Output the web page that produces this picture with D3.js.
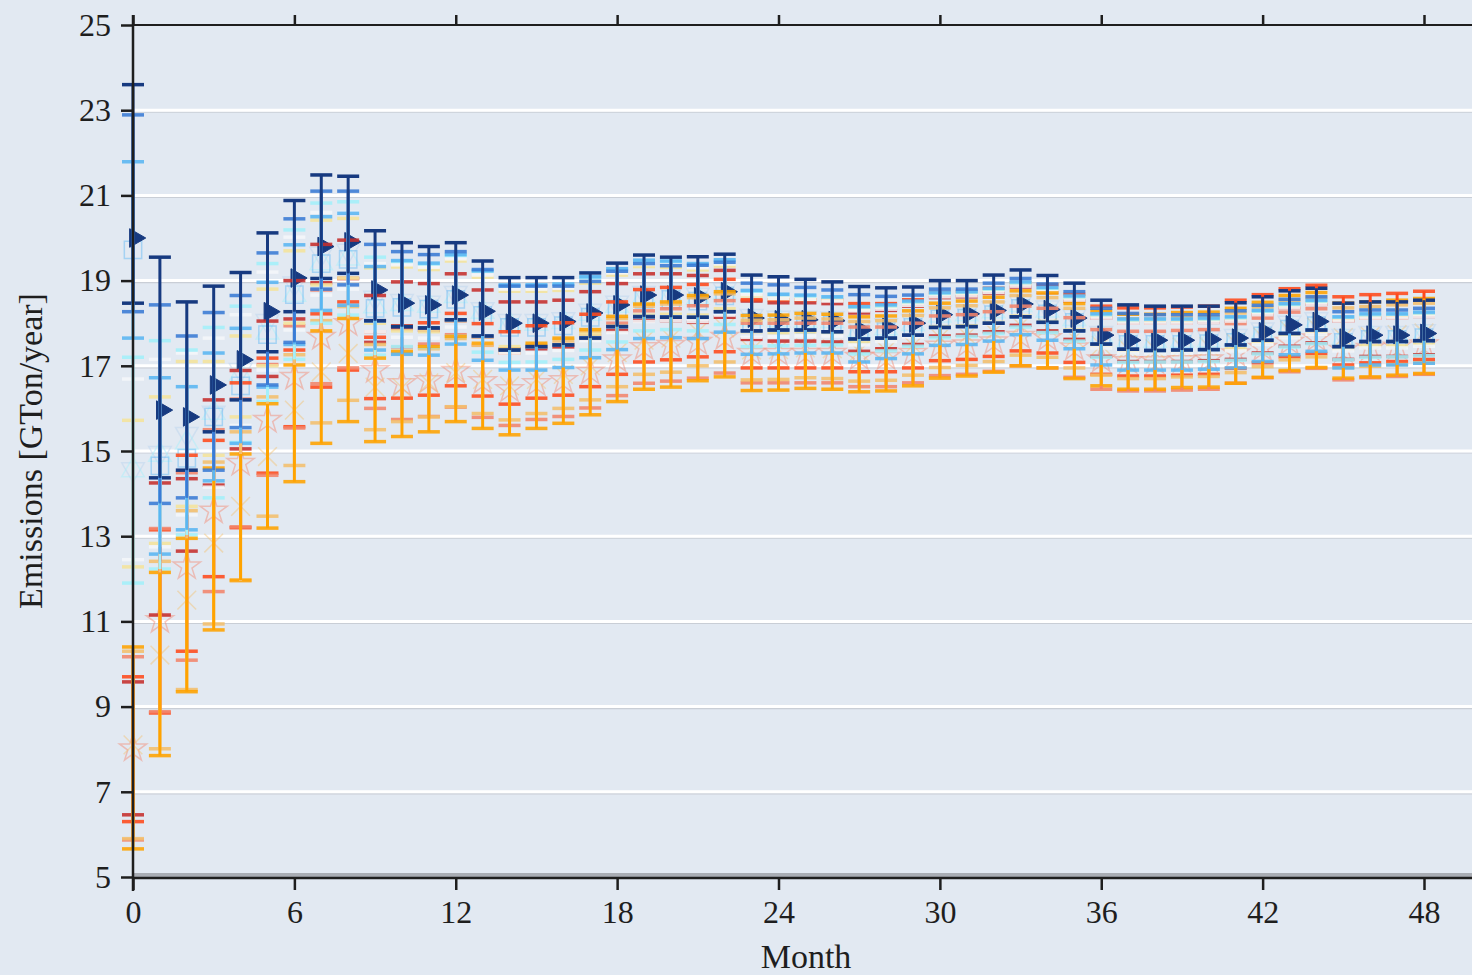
<!DOCTYPE html>
<html>
<head>
<meta charset="utf-8">
<script src="https://cdn.jsdelivr.net/npm/d3@7"></script>
<style>
  html, body { margin: 0; padding: 0; background: #e2e9f2; }
  svg { display: block; }
  text { font-family: "Liberation Serif", "DejaVu Serif", serif; fill: #1e1e1e; }
</style>
</head>
<body>
<svg id="chart" width="1472" height="975"></svg>
<script>
// months on the x axis and tick values
var months = [0, 1, 2, 3, 4, 5, 6, 7, 8, 9, 10, 11, 12, 13, 14, 15, 16, 17, 18, 19, 20, 21, 22, 23, 24,
    25, 26, 27, 28, 29, 30, 31, 32, 33, 34, 35, 36, 37, 38, 39, 40, 41, 42, 43, 44, 45, 46, 47, 48];
var xTicks = [0, 6, 12, 18, 24, 30, 36, 42, 48];
var yTicks = [5, 7, 9, 11, 13, 15, 17, 19, 21, 23, 25];

// navy series (asymmetric bars)
var navyValue = [20.0, 15.96, 15.8, 16.55, 17.14, 18.27, 19.06, 19.8, 19.91, 18.78,
    18.47, 18.43, 18.66, 18.28, 18.0, 18.0, 18.04, 18.24, 18.43, 18.66,
    18.66, 18.62, 18.74, 18.12, 18.08, 18.08, 18.06, 17.84, 17.9, 18.0,
    18.2, 18.22, 18.3, 18.45, 18.32, 18.12, 17.72, 17.6, 17.6, 17.6,
    17.62, 17.65, 17.8, 17.96, 18.04, 17.65, 17.72, 17.72, 17.76];
var navyHigh = [23.6, 19.55, 18.5, 18.87, 19.19, 20.12, 20.88, 21.48, 21.45, 20.17,
    19.89, 19.8, 19.89, 19.46, 19.07, 19.07, 19.07, 19.18, 19.41, 19.6,
    19.55, 19.56, 19.62, 19.13, 19.09, 19.03, 18.97, 18.86, 18.83, 18.85,
    19.0, 19.0, 19.13, 19.25, 19.12, 18.94, 18.54, 18.43, 18.4, 18.4,
    18.4, 18.48, 18.62, 18.76, 18.82, 18.47, 18.5, 18.5, 18.54];
var navyLow = [18.47, 14.37, 14.55, 15.45, 16.2, 17.33, 18.27, 19.05, 19.17, 18.06,
    17.92, 17.89, 18.08, 17.7, 17.37, 17.45, 17.49, 17.65, 17.92, 18.15,
    18.14, 18.14, 18.27, 17.82, 17.84, 17.84, 17.8, 17.63, 17.65, 17.72,
    17.9, 17.92, 18.0, 18.15, 18.02, 17.82, 17.51, 17.39, 17.36, 17.37,
    17.38, 17.49, 17.6, 17.76, 17.84, 17.45, 17.57, 17.57, 17.59];

var midBlueValue = [20.58, 16.1, 15.8, 16.4, 17.1, 18.1, 19.0, 19.95, 20.0, 18.95,
    18.8, 18.75, 18.88, 18.48, 18.12, 18.16, 18.18, 18.32, 18.57, 18.78,
    18.75, 18.75, 18.85, 18.38, 18.37, 18.34, 18.29, 18.15, 18.14, 18.19,
    18.35, 18.36, 18.47, 18.6, 18.47, 18.28, 17.93, 17.81, 17.78, 17.79,
    17.79, 17.89, 18.01, 18.16, 18.23, 17.86, 17.94, 17.94, 17.97];
var midBlueErr = [2.31, 2.33, 1.9, 1.85, 1.55, 1.55, 1.45, 1.15, 1.1, 0.9,
    0.88, 0.86, 0.8, 0.78, 0.75, 0.71, 0.69, 0.66, 0.65, 0.62,
    0.6, 0.61, 0.58, 0.56, 0.53, 0.5, 0.49, 0.52, 0.49, 0.47,
    0.45, 0.44, 0.47, 0.45, 0.45, 0.46, 0.42, 0.42, 0.42, 0.41,
    0.41, 0.4, 0.41, 0.4, 0.39, 0.41, 0.37, 0.37, 0.38];

var lightBlueValue = [19.72, 14.65, 14.83, 15.8, 16.53, 17.73, 18.67, 19.4, 19.5, 18.35,
    18.37, 18.33, 18.56, 18.18, 17.9, 17.9, 17.94, 18.14, 18.33, 18.56,
    18.56, 18.52, 18.64, 18.02, 17.98, 17.98, 17.96, 17.74, 17.8, 17.9,
    18.1, 18.12, 18.2, 18.35, 18.22, 18.02, 17.62, 17.5, 17.5, 17.5,
    17.52, 17.55, 17.7, 17.86, 17.94, 17.55, 17.62, 17.62, 17.66];
var lightBlueErr = [2.07, 2.07, 1.68, 1.5, 1.35, 1.23, 1.17, 1.1, 1.08, 0.98,
    1.1, 1.08, 1.05, 1.05, 1.0, 1.0, 0.98, 0.95, 0.95, 0.92,
    0.9, 0.88, 0.85, 0.75, 0.7, 0.68, 0.66, 0.65, 0.63, 0.62,
    0.62, 0.62, 0.62, 0.62, 0.62, 0.62, 0.6, 0.6, 0.6, 0.6,
    0.6, 0.6, 0.6, 0.6, 0.6, 0.6, 0.6, 0.6, 0.6];

var cyanValue = [14.55, 14.91, 15.2, 15.9, 16.8, 17.78, 18.67, 19.41, 19.52, 18.4,
    18.45, 18.41, 18.64, 18.27, 17.98, 17.99, 18.03, 18.22, 18.41, 18.64,
    18.65, 18.6, 18.72, 18.1, 18.07, 18.06, 18.05, 17.83, 17.88, 17.98,
    18.18, 18.21, 18.28, 18.43, 18.3, 18.1, 17.7, 17.58, 17.59, 17.59,
    17.6, 17.63, 17.78, 17.94, 18.02, 17.64, 17.7, 17.71, 17.74];
var cyanErr = [2.65, 2.68, 2.17, 2.0, 1.6, 1.62, 1.52, 1.41, 1.33, 1.15,
    1.0, 0.98, 0.95, 0.95, 0.9, 0.9, 0.88, 0.85, 0.85, 0.82,
    0.8, 0.78, 0.75, 0.65, 0.6, 0.58, 0.56, 0.55, 0.53, 0.52,
    0.52, 0.52, 0.52, 0.52, 0.52, 0.52, 0.5, 0.5, 0.5, 0.5,
    0.5, 0.5, 0.5, 0.5, 0.5, 0.5, 0.5, 0.5, 0.5];

var whiteValue = [14.57, 14.95, 15.4, 15.9, 16.9, 18.05, 18.93, 19.63, 19.7, 18.6,
    18.52, 18.48, 18.71, 18.33, 18.05, 18.05, 18.09, 18.29, 18.48, 18.71,
    18.71, 18.67, 18.79, 18.17, 18.13, 18.13, 18.11, 17.89, 17.95, 18.05,
    18.25, 18.27, 18.35, 18.5, 18.37, 18.17, 17.77, 17.65, 17.65, 17.65,
    17.67, 17.7, 17.85, 18.01, 18.09, 17.7, 17.77, 17.77, 17.81];
var whiteErr = [2.12, 2.2, 1.9, 1.75, 1.3, 1.15, 1.09, 0.97, 0.9, 0.8,
    0.85, 0.83, 0.8, 0.8, 0.75, 0.75, 0.73, 0.7, 0.7, 0.67,
    0.65, 0.63, 0.6, 0.5, 0.45, 0.43, 0.41, 0.4, 0.38, 0.37,
    0.37, 0.37, 0.37, 0.37, 0.37, 0.37, 0.35, 0.35, 0.35, 0.35,
    0.35, 0.35, 0.35, 0.35, 0.35, 0.35, 0.35, 0.35, 0.35];

var yellowValue = [14.0, 14.55, 15.4, 16.0, 16.75, 17.9, 18.85, 19.66, 19.76, 18.65,
    18.57, 18.53, 18.76, 18.38, 18.1, 18.1, 18.14, 18.34, 18.53, 18.76,
    18.76, 18.72, 18.84, 18.22, 18.18, 18.18, 18.16, 17.94, 18.0, 18.1,
    18.3, 18.32, 18.4, 18.55, 18.42, 18.22, 17.82, 17.7, 17.7, 17.7,
    17.72, 17.75, 17.9, 18.06, 18.14, 17.75, 17.82, 17.82, 17.86];
var yellowErr = [1.72, 1.72, 1.7, 1.1, 0.95, 0.9, 0.85, 0.76, 0.7, 0.65,
    0.75, 0.73, 0.7, 0.7, 0.65, 0.65, 0.63, 0.6, 0.6, 0.57,
    0.55, 0.53, 0.5, 0.42, 0.4, 0.38, 0.38, 0.38, 0.38, 0.38,
    0.38, 0.38, 0.38, 0.38, 0.38, 0.38, 0.35, 0.35, 0.35, 0.35,
    0.35, 0.35, 0.35, 0.35, 0.35, 0.35, 0.35, 0.35, 0.35];

var darkRedValue = [8.02, 12.7, 13.5, 15.2, 15.97, 17.4, 18.55, 19.4, 19.5, 18.1,
    18.42, 18.38, 18.61, 18.23, 17.95, 17.95, 17.99, 18.19, 18.38, 18.61,
    18.61, 18.57, 18.69, 18.07, 18.03, 18.03, 18.01, 17.79, 17.85, 17.95,
    18.15, 18.17, 18.25, 18.4, 18.27, 18.07, 17.67, 17.55, 17.55, 17.55,
    17.57, 17.6, 17.75, 17.91, 17.99, 17.6, 17.67, 17.67, 17.71];
var darkRedErr = [1.56, 1.55, 0.85, 1.0, 0.92, 0.65, 0.45, 0.45, 0.45, 0.55,
    0.55, 0.55, 0.55, 0.55, 0.55, 0.55, 0.55, 0.55, 0.55, 0.55,
    0.55, 0.55, 0.55, 0.45, 0.45, 0.45, 0.45, 0.45, 0.45, 0.45,
    0.45, 0.45, 0.45, 0.45, 0.45, 0.45, 0.45, 0.45, 0.45, 0.45,
    0.45, 0.45, 0.45, 0.45, 0.45, 0.45, 0.45, 0.45, 0.45];

var redOrangeValue = [8.0, 11.0, 12.6, 13.65, 14.9, 15.83, 16.47, 17.36, 17.7, 16.95,
    17.09, 17.16, 17.38, 17.14, 16.95, 17.09, 17.16, 17.36, 17.65, 17.94,
    17.99, 18.06, 18.18, 17.75, 17.75, 17.75, 17.75, 17.66, 17.66, 17.75,
    17.92, 17.95, 18.02, 18.15, 18.1, 17.88, 17.6, 17.56, 17.56, 17.58,
    17.6, 17.74, 17.87, 18.01, 18.09, 17.82, 17.87, 17.9, 17.95];
var redOrangeErr = [1.7, 2.15, 2.3, 1.6, 1.7, 1.35, 0.9, 0.86, 0.8, 0.72,
    0.85, 0.85, 0.85, 0.85, 0.85, 0.85, 0.85, 0.85, 0.85, 0.85,
    0.85, 0.85, 0.85, 0.8, 0.8, 0.8, 0.8, 0.8, 0.8, 0.8,
    0.8, 0.8, 0.8, 0.8, 0.8, 0.8, 0.8, 0.8, 0.8, 0.8,
    0.8, 0.8, 0.8, 0.8, 0.8, 0.8, 0.8, 0.8, 0.8];

var salmonValue = [8.02, 11.03, 12.29, 13.6, 14.72, 15.73, 16.74, 17.68, 18.0, 16.9,
    16.59, 16.66, 16.88, 16.64, 16.45, 16.59, 16.66, 16.86, 17.15, 17.44,
    17.49, 17.56, 17.68, 17.3, 17.3, 17.3, 17.3, 17.21, 17.21, 17.3,
    17.47, 17.5, 17.57, 17.7, 17.65, 17.43, 17.15, 17.11, 17.11, 17.13,
    17.15, 17.29, 17.42, 17.56, 17.64, 17.37, 17.42, 17.45, 17.5];
var salmonErr = [2.15, 2.15, 2.2, 1.9, 1.5, 1.3, 1.2, 1.1, 1.05, 0.9,
    0.85, 0.85, 0.85, 0.85, 0.85, 0.85, 0.85, 0.85, 0.85, 0.85,
    0.85, 0.85, 0.85, 0.7, 0.7, 0.7, 0.7, 0.7, 0.7, 0.7,
    0.7, 0.7, 0.7, 0.7, 0.7, 0.7, 0.7, 0.7, 0.7, 0.7,
    0.7, 0.7, 0.7, 0.7, 0.7, 0.7, 0.7, 0.7, 0.7];

var tanValue = [8.1, 10.21, 11.5, 12.84, 13.7, 14.87, 15.96, 16.86, 17.29, 16.5,
    16.49, 16.6, 16.84, 16.68, 16.53, 16.68, 16.8, 17.0, 17.31, 17.6,
    17.65, 17.8, 17.89, 17.37, 17.38, 17.42, 17.4, 17.34, 17.36, 17.48,
    17.66, 17.71, 17.8, 17.95, 17.9, 17.65, 17.48, 17.4, 17.4, 17.44,
    17.45, 17.54, 17.68, 17.84, 17.91, 17.66, 17.69, 17.73, 17.77];
var tanErr = [2.2, 2.2, 2.1, 1.9, 1.75, 1.4, 1.3, 1.2, 1.1, 1.0,
    0.8, 0.8, 0.8, 0.8, 0.8, 0.8, 0.8, 0.8, 0.8, 0.8,
    0.8, 0.8, 0.8, 0.7, 0.7, 0.7, 0.7, 0.7, 0.7, 0.7,
    0.7, 0.7, 0.7, 0.7, 0.7, 0.7, 0.7, 0.7, 0.7, 0.7,
    0.7, 0.7, 0.7, 0.7, 0.7, 0.7, 0.7, 0.7, 0.7];

var orangeValue = [8.03, 10.0, 11.15, 12.7, 13.45, 14.65, 15.65, 16.5, 16.9, 16.2,
    16.34, 16.45, 16.69, 16.53, 16.38, 16.53, 16.65, 16.85, 17.16, 17.45,
    17.5, 17.65, 17.74, 17.3, 17.31, 17.35, 17.33, 17.27, 17.29, 17.41,
    17.59, 17.64, 17.73, 17.88, 17.83, 17.58, 17.41, 17.33, 17.33, 17.37,
    17.38, 17.47, 17.61, 17.77, 17.84, 17.59, 17.62, 17.66, 17.7];
var orangeErr = [2.37, 2.15, 1.8, 1.9, 1.48, 1.46, 1.37, 1.32, 1.21, 0.98,
    1.0, 1.0, 1.0, 1.0, 1.0, 1.0, 1.0, 1.0, 1.0, 1.0,
    1.0, 1.0, 1.0, 0.88, 0.88, 0.88, 0.88, 0.88, 0.88, 0.88,
    0.88, 0.88, 0.88, 0.88, 0.88, 0.88, 0.88, 0.88, 0.88, 0.88,
    0.88, 0.88, 0.88, 0.88, 0.88, 0.88, 0.88, 0.88, 0.88];

// drawing order: first ones are covered by later ones
var series = [
    {name: 'darkRed', color: '#c62f2d', value: darkRedValue, err: darkRedErr},
    {name: 'redOrange', color: '#ff4a1c', value: redOrangeValue, err: redOrangeErr},
    {name: 'salmon', color: '#f3856c', value: salmonValue, err: salmonErr, marker: 'star'},
    {name: 'tan', color: '#f4c06e', value: tanValue, err: tanErr, marker: 'times'},
    {name: 'yellow', color: '#f5e49c', value: yellowValue, err: yellowErr},
    {name: 'white', color: '#f5f7fa', value: whiteValue, err: whiteErr, marker: 'down'},
    {name: 'cyan', color: '#a3f0fa', value: cyanValue, err: cyanErr, marker: 'up'},
    {name: 'orange', color: '#ffa300', value: orangeValue, err: orangeErr},
    {name: 'lightBlue', color: '#5ab6f3', value: lightBlueValue, err: lightBlueErr, marker: 'square'},
    {name: 'midBlue', color: '#3a7bd5', value: midBlueValue, err: midBlueErr},
    {name: 'navy', color: '#173a80', value: navyValue, low: navyLow, high: navyHigh, marker: 'right'}
];

var svg = d3.select('#chart');
var x = d3.scaleLinear().domain([0, 48]).range([133, 1424]);
var y = d3.scaleLinear().domain([5, 25]).range([877, 25]);
var plotRight = 1472;
var capHalf = 11;

// gridlines
var grid = svg.append('g');
yTicks.filter(function (d) { return d > 5 && d < 25; }).forEach(function (d) {
    grid.append('line')
        .attr('x1', x(0)).attr('x2', plotRight)
        .attr('y1', y(d) + 2).attr('y2', y(d) + 2)
        .attr('stroke', '#c9ced6').attr('stroke-width', 1.2);
    grid.append('line')
        .attr('x1', x(0)).attr('x2', plotRight)
        .attr('y1', y(d)).attr('y2', y(d))
        .attr('stroke', '#ffffff').attr('stroke-width', 3);
});

// build the bar records
var bars = [];
series.forEach(function (s, si) {
    months.forEach(function (m, i) {
        bars.push({
            s: s, si: si, m: m,
            v: s.value[i],
            lo: s.low ? s.low[i] : s.value[i] - s.err[i],
            hi: s.high ? s.high[i] : s.value[i] + s.err[i]
        });
    });
});

var marks = svg.append('g');

// markers (underneath the caps, as in the original)
var symbolFor = {
    star: d3.symbol().type(d3.symbolStar).size(230),
    times: d3.symbol().type(d3.symbolTimes).size(230),
    up: d3.symbol().type(d3.symbolTriangle).size(220),
    down: d3.symbol().type(d3.symbolTriangle).size(220),
    square: d3.symbol().type(d3.symbolSquare).size(300),
    right: d3.symbol().type(d3.symbolTriangle).size(150)
};
var rotateFor = {star: 0, times: 0, up: 0, down: 180, square: 0, right: 90};

series.filter(function (s) { return s.marker; }).forEach(function (s) {
    var b = bars.filter(function (d) { return d.s === s; });
    var filled = s.marker === 'right';
    marks.append('g').selectAll('path')
        .data(b)
        .enter()
        .append('path')
        .attr('d', symbolFor[s.marker])
        .attr('transform', function (d) {
            return 'translate(' + (x(d.m) + (filled ? 2 : 0)) + ',' + y(d.v) + ') rotate(' + rotateFor[s.marker] + ')';
        })
        .attr('fill', filled ? s.color : 'none')
        .attr('stroke', s.name === 'white' ? '#b9d3ee' : s.color)
        .attr('stroke-width', filled ? 1 : 1.5)
        .attr('opacity', filled ? 1 : 0.45);
});

// caps
series.forEach(function (s) {
    var b = bars.filter(function (d) { return d.s === s; });
    var g = marks.append('g').attr('opacity', s.name === 'navy' ? 1 : 0.88);
    ['lo', 'hi'].forEach(function (k) {
        g.selectAll('.cap-' + k)
            .data(b)
            .enter()
            .append('line')
            .attr('x1', function (d) { return x(d.m) - capHalf; })
            .attr('x2', function (d) { return x(d.m) + capHalf; })
            .attr('y1', function (d) { return y(d[k]); })
            .attr('y2', function (d) { return y(d[k]); })
            .attr('stroke', s.color)
            .attr('stroke-width', 3.5);
    });
});

// vertical bars
series.forEach(function (s) {
    var b = bars.filter(function (d) { return d.s === s; });
    marks.append('g').selectAll('line')
        .data(b)
        .enter()
        .append('line')
        .attr('x1', function (d) { return x(d.m); })
        .attr('x2', function (d) { return x(d.m); })
        .attr('y1', function (d) { return y(d.lo); })
        .attr('y2', function (d) { return y(d.hi); })
        .attr('stroke', s.color)
        .attr('stroke-width', 3);
});

// axes
var axes = svg.append('g');
axes.append('line')
    .attr('x1', x(0)).attr('x2', plotRight)
    .attr('y1', y(5) - 2).attr('y2', y(5) - 2)
    .attr('stroke', '#a9adb4').attr('stroke-width', 4);
axes.append('line')
    .attr('x1', x(0) - 1).attr('x2', plotRight)
    .attr('y1', y(5) + 1).attr('y2', y(5) + 1)
    .attr('stroke', '#1e1e1e').attr('stroke-width', 2.5);
axes.append('line')
    .attr('x1', x(0)).attr('x2', plotRight)
    .attr('y1', y(25)).attr('y2', y(25))
    .attr('stroke', '#1e1e1e').attr('stroke-width', 2);
axes.append('line')
    .attr('x1', x(0)).attr('x2', x(0))
    .attr('y1', y(25) - 10).attr('y2', y(5) + 14)
    .attr('stroke', '#1e1e1e').attr('stroke-width', 2.5);

var yAxis = axes.append('g')
    .attr('transform', 'translate(' + x(0) + ',0)')
    .call(d3.axisLeft(y).tickValues(yTicks).tickSize(12).tickSizeOuter(0).tickPadding(10));
var xAxis = axes.append('g')
    .attr('transform', 'translate(0,' + (y(5) + 1) + ')')
    .call(d3.axisBottom(x).tickValues(xTicks).tickSize(12).tickSizeOuter(0).tickPadding(10));
var topAxis = axes.append('g')
    .attr('transform', 'translate(0,' + y(25) + ')')
    .call(d3.axisTop(x).tickValues(xTicks).tickSize(10).tickSizeOuter(0).tickFormat(''));

[yAxis, xAxis, topAxis].forEach(function (a) {
    a.select('.domain').remove();
    a.selectAll('.tick line').attr('stroke', '#1e1e1e').attr('stroke-width', 2.5);
    a.selectAll('.tick text')
        .attr('font-size', 32)
        .attr('font-family', '"Liberation Serif", serif')
        .attr('fill', '#1e1e1e');
});

// axis titles
svg.append('text')
    .attr('x', 806).attr('y', 968)
    .attr('text-anchor', 'middle')
    .attr('font-size', 34)
    .text('Month');
svg.append('text')
    .attr('transform', 'translate(42,451) rotate(-90)')
    .attr('text-anchor', 'middle')
    .attr('font-size', 34)
    .text('Emissions [GTon/year]');
</script>
</body>
</html>
